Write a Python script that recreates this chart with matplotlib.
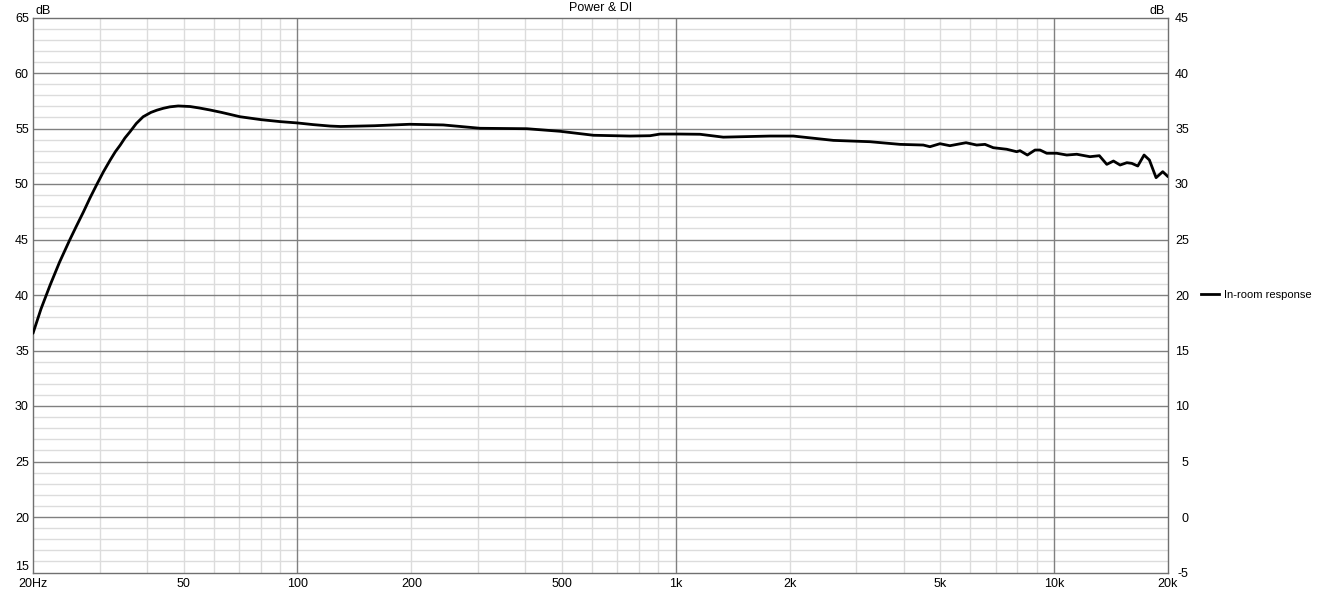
import matplotlib
matplotlib.use("Agg")
import matplotlib.pyplot as plt
from matplotlib.ticker import FixedLocator, NullFormatter

freq_hz = [20, 21, 22.2, 23.5, 25, 26, 27.2, 28.3, 29.5, 30.7, 32, 33, 34, 35, 36.1,
           37.5, 39.1, 41, 42.5, 44.2, 46, 48.4, 52, 55, 58.7, 63, 70.5, 80, 90, 100,
           110, 122, 130, 160, 198, 243, 304, 404, 494, 606, 757, 855, 909, 1026,
           1159, 1335, 1775, 2045, 2609, 3261, 3915, 4510, 4697, 4993, 5303, 5850,
           6242, 6566, 6906, 7493, 7962, 8127, 8498, 8902, 9180, 9560, 10160, 10800,
           11480, 12440, 13170, 13780, 14350, 14940, 15570, 16040, 16640, 17290,
           17860, 18600, 19370, 20000]
spl_db = [36.55, 38.75, 40.9, 42.95, 44.95, 46.15, 47.5, 48.75, 49.97, 51.1, 52.16, 52.9,
          53.5, 54.15, 54.71, 55.45, 56.06, 56.45, 56.65, 56.82, 56.95, 57.03, 56.98,
          56.85, 56.67, 56.45, 56.06, 55.8, 55.62, 55.5, 55.35, 55.22, 55.18, 55.25,
          55.38, 55.32, 55.02, 54.98, 54.75, 54.39, 54.32, 54.35, 54.5, 54.5, 54.48,
          54.22, 54.32, 54.32, 53.93, 53.81, 53.57, 53.51, 53.36, 53.63, 53.45, 53.72,
          53.51, 53.57, 53.27, 53.13, 52.91, 53.0, 52.61, 53.06, 53.06, 52.77, 52.77,
          52.61, 52.68, 52.46, 52.55, 51.77, 52.07, 51.71, 51.92, 51.86, 51.62,
          52.61, 52.16, 50.57, 51.11, 50.66]

x_major = [100, 1000, 10000]
x_labels_pos = [20, 50, 100, 200, 500, 1000, 2000, 5000, 10000, 20000]
x_labels = ["20Hz", "50", "100", "200", "500", "1k", "2k", "5k", "10k", "20k"]
y_left_ticks = list(range(15, 66, 5))
y_right_ticks = list(range(-5, 46, 5))
series_name = "In-room response"
title = "Power & DI"

plt.rcParams['font.family'] = ['Liberation Sans', 'DejaVu Sans']
plt.rcParams['axes.unicode_minus'] = False
FS = 9
fig = plt.figure(figsize=(13.2, 5.92), dpi=100)
ax = fig.add_axes([33/1320, 1-572.5/592, (1168-33)/1320, (572.5-17.5)/592])
ax.set_xscale('log')
ax.set_xlim(20, 20000)
ax.set_ylim(15, 65)

# grid
minor_x = []
for dec in [10, 100, 1000, 10000]:
    for m in range(2, 10):
        v = dec * m
        if 20 < v < 20000:
            minor_x.append(v)
for v in minor_x:
    ax.axvline(v, color='#dcdcdc', lw=1, zorder=0)
for v in range(16, 65):
    if v % 5:
        ax.axhline(v, color='#dcdcdc', lw=1, zorder=0)
for v in x_major:
    ax.axvline(v, color='#808080', lw=1, zorder=1)
for v in y_left_ticks[1:-1]:
    ax.axhline(v, color='#808080', lw=1, zorder=1)

ax.plot(freq_hz, spl_db, color='black', lw=2, zorder=3,
        solid_capstyle='round', solid_joinstyle='round')

for s in ax.spines.values():
    s.set_color('#707070')
    s.set_linewidth(1)

ax.xaxis.set_major_locator(FixedLocator(x_labels_pos))
ax.set_xticklabels(x_labels)
ax.xaxis.set_minor_formatter(NullFormatter())
ax.xaxis.set_minor_locator(FixedLocator([]))
ax.set_yticks(y_left_ticks)
ax.tick_params(axis='both', length=0, labelsize=FS, colors='black')
ax.tick_params(axis='x', pad=4)
ax.tick_params(axis='y', pad=3)
ax.get_yticklabels()[0].set_verticalalignment('bottom')

ax2 = ax.twinx()
ax2.set_ylim(-5, 45)
ax2.set_yticks(y_right_ticks)
ax2.tick_params(axis='y', length=0, labelsize=FS, pad=15)
for lbl in ax2.get_yticklabels():
    lbl.set_horizontalalignment('right')
for s in ax2.spines.values():
    s.set_visible(False)

fig.text(35/1320, 1-11/592, "dB", fontsize=FS, ha='left', va='center')
fig.text(1165/1320, 1-11/592, "dB", fontsize=FS, ha='right', va='center')
fig.text(0.5 * (33 + 1168) / 1320, 1-8/592, title, fontsize=FS, ha='center', va='center')

ax.plot([], [], color='black', lw=2, label=series_name)
ax.legend(loc='center left', bbox_to_anchor=(1.029, 0.5), frameon=False,
          fontsize=8, handlelength=1.6, handletextpad=0.5, borderaxespad=0,
          borderpad=0)

fig.savefig("out.png", dpi=100)
